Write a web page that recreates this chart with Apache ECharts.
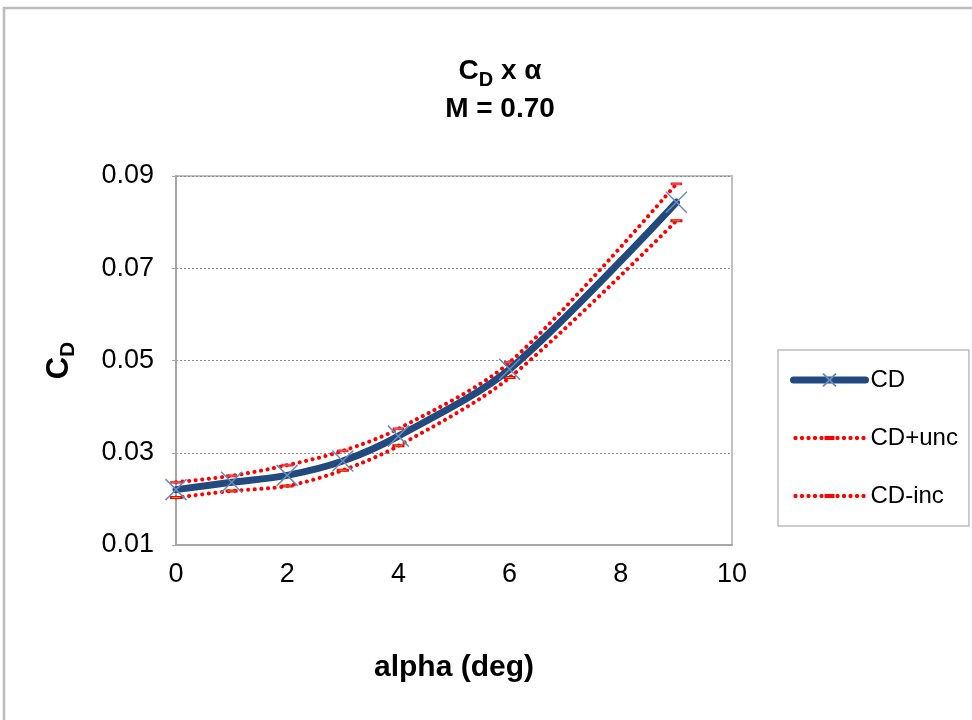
<!DOCTYPE html>
<html>
<head>
<meta charset="utf-8">
<script src="https://cdn.jsdelivr.net/npm/echarts@6/dist/echarts.min.js"></script>
<style>html,body{margin:0;padding:0;background:#fff;}#c{width:972px;height:720px;}</style>
</head>
<body>
<div id="c"></div>
<script>
var alpha = [0, 1, 2, 3, 4, 6, 9];
var cd = [0.0220, 0.0236, 0.0251, 0.0282, 0.0336, 0.0481, 0.0843];
var cdUnc = [0.0236, 0.0250, 0.0273, 0.0304, 0.0352, 0.0496, 0.0883];
var cdInc = [0.0203, 0.0217, 0.0228, 0.0262, 0.0315, 0.0463, 0.0803];
var seriesNames = ['CD', 'CD+unc', 'CD-inc'];
var xTicks = {min: 0, max: 10, interval: 2};
var yTicks = {min: 0.01, max: 0.09, interval: 0.02};

function pairs(xs, ys) { return xs.map(function (x, i) { return [x, ys[i]]; }); }

var FONT = '"Liberation Sans", Arial, sans-serif';
var RECT = 'path://M0,0h10v4h-10z';
var CROSS = 'path://M0,0L10,10M10,0L0,10';
var dotted = [0.1, 6.5];

// legend icon: dotted line with a small dash marker in the middle (72 x 4 box)
function dotPath(cx) {
  return 'M' + (cx - 1) + ',1h2l1,1v2l-1,1h-2l-1,-1v-2z';
}
var legendDotted = 'path://' + [2, 8.5, 15, 21.5, 28, 44, 50.5, 57, 63.5, 70].map(dotPath).join('') + 'M31,1h10v4h-10z';

var chart = echarts.init(document.getElementById('c'));
chart.setOption({
  backgroundColor: '#fff',
  animation: false,
  textStyle: {fontFamily: FONT},
  graphic: [{
    type: 'rect', shape: {x: 4, y: 8, width: 1000, height: 800},
    style: {fill: 'none', stroke: '#bdbdbd', lineWidth: 2.5}, silent: true
  }],
  title: {
    left: 495, top: 47, textAlign: 'center',
    text: '{b|C}{s|D}{b| x α}\n{b|M = 0.70}',
    textStyle: {
      rich: {
        b: {fontFamily: FONT, fontSize: 28, fontWeight: 'bold', color: '#000', lineHeight: 38},
        s: {fontFamily: FONT, fontSize: 20, fontWeight: 'bold', color: '#000', lineHeight: 38, verticalAlign: 'bottom', padding: [12, 0, 0, 0]}
      }
    }
  },
  grid: {left: 176, right: 240, top: 176, bottom: 175, show: true, borderColor: '#c0c0c0', borderWidth: 2, backgroundColor: '#fff'},
  legend: {
    orient: 'vertical', left: 778, top: 350,
    padding: [18, 11, 18, 12], itemGap: 34,
    itemWidth: 72, itemHeight: 16, symbolKeepAspect: true,
    borderColor: '#bdbdbd', borderWidth: 1.5,
    textStyle: {fontFamily: FONT, fontSize: 24, color: '#000', padding: [0, 0, 0, 0]},
    data: [
      {name: seriesNames[0], lineStyle: {width: 7}},
      {name: seriesNames[1], icon: legendDotted, itemStyle: {color: '#ff0000', borderWidth: 0}},
      {name: seriesNames[2], icon: legendDotted, itemStyle: {color: '#ff0000', borderWidth: 0}}
    ]
  },
  xAxis: {
    type: 'value', min: xTicks.min, max: xTicks.max, interval: xTicks.interval,
    name: 'alpha (deg)', nameLocation: 'middle', nameGap: 108,
    nameTextStyle: {fontFamily: FONT, fontSize: 30, fontWeight: 'bold', color: '#000'},
    axisLine: {show: true, lineStyle: {color: '#a6a6a6', width: 2}},
    axisTick: {show: false},
    splitLine: {show: false},
    axisLabel: {fontFamily: FONT, fontSize: 27, color: '#000', margin: 16}
  },
  yAxis: {
    type: 'value', min: yTicks.min, max: yTicks.max, interval: yTicks.interval,
    name: '{b|C}{s|D}', nameLocation: 'middle', nameGap: 97, nameRotate: 90,
    nameTextStyle: {
      rich: {
        b: {fontFamily: FONT, fontSize: 31, fontWeight: 'bold', color: '#000', lineHeight: 40},
        s: {fontFamily: FONT, fontSize: 21, fontWeight: 'bold', color: '#000', lineHeight: 40, verticalAlign: 'bottom', padding: [12, 0, 0, 0]}
      }
    },
    axisLine: {show: true, lineStyle: {color: '#a6a6a6', width: 2}},
    axisTick: {show: true, length: 4, lineStyle: {color: '#a6a6a6'}},
    splitLine: {show: true, lineStyle: {color: '#8c8c8c', type: [2, 2], width: 1}},
    axisLabel: {fontFamily: FONT, fontSize: 27, color: '#000', margin: 22,
      formatter: function (v) { return v.toFixed(2); }}
  },
  series: [
    {
      name: seriesNames[0], type: 'line', data: pairs(alpha, cd), smooth: 0.3,
      symbol: CROSS, symbolSize: 21,
      lineStyle: {color: '#234a7e', width: 7, cap: 'round'},
      itemStyle: {color: 'rgba(0,0,0,0)', borderColor: '#6a8cbd', borderWidth: 1.5},
      z: 3
    },
    {
      name: seriesNames[1], type: 'line', data: pairs(alpha, cdUnc), smooth: 0.3,
      symbol: RECT, symbolSize: [10, 5], symbolKeepAspect: true,
      lineStyle: {color: '#ff0000', width: 4, type: dotted, cap: 'round'},
      itemStyle: {color: '#e8525a', borderColor: '#ee2222', borderWidth: 1},
      z: 2
    },
    {
      name: seriesNames[2], type: 'line', data: pairs(alpha, cdInc), smooth: 0.3,
      symbol: RECT, symbolSize: [10, 5], symbolKeepAspect: true,
      lineStyle: {color: '#ff0000', width: 4, type: dotted, cap: 'round'},
      itemStyle: {color: '#9aa13a', borderColor: '#ff0000', borderWidth: 1.5},
      z: 2
    }
  ]
});
</script>
</body>
</html>
